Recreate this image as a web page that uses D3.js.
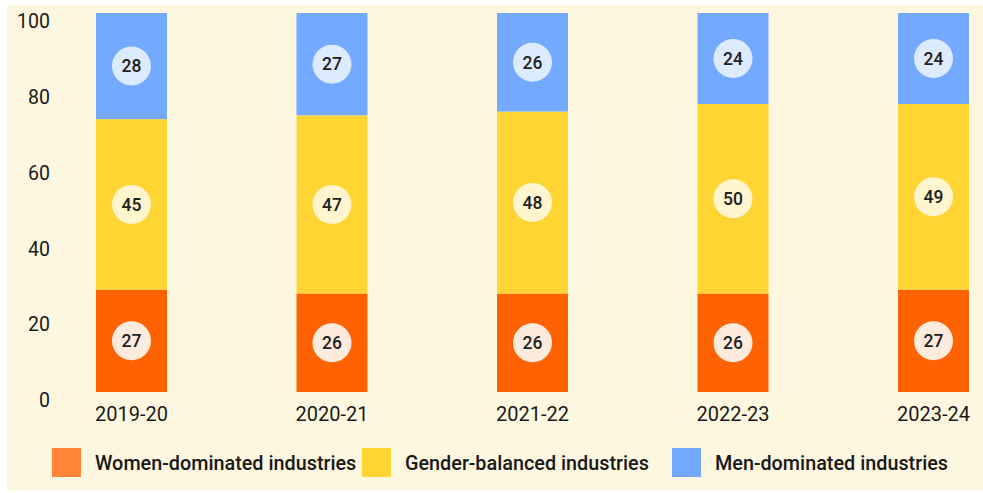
<!DOCTYPE html>
<html>
<head>
<meta charset="utf-8">
<script src="https://cdn.jsdelivr.net/npm/d3@7"></script>
<style>
  body { margin: 0; background: #fff; }
  svg text { font-family: Roboto, "Noto Sans", sans-serif; }
  svg text.med { font-family: "Roboto Medium", Roboto, sans-serif; font-weight: 500; }
</style>
</head>
<body>
<div id="chart"></div>
<script>
// chart values
const years = ["2019-20", "2020-21", "2021-22", "2022-23", "2023-24"];
const women = [27, 26, 26, 26, 27];
const balanced = [45, 47, 48, 50, 49];
const men = [28, 27, 26, 24, 24];
const seriesNames = ["Women-dominated industries", "Gender-balanced industries", "Men-dominated industries"];
const yTicks = [0, 20, 40, 60, 80, 100];

const width = 983, height = 493;
const barColors = ["#FF6200", "#FFD533", "#73AAFF"];
const legendColors = ["#FF8436", "#FFD533", "#73AAFF"];
const bubbleColors = ["#FFEBDD", "#FFF5CF", "#DDEBFF"];

const svg = d3.select("#chart").append("svg")
    .attr("width", width)
    .attr("height", height);

// cream panel
svg.append("rect")
    .attr("x", 7).attr("y", 5)
    .attr("width", width - 7).attr("height", 485)
    .attr("fill", "#FEF7E0");

const x = d3.scaleBand()
    .domain(years)
    .range([96, 969])
    .paddingInner(0.646)
    .paddingOuter(0);

const y = d3.scaleLinear()
    .domain([0, 100])
    .range([392, 13]);

// stack the three series
const rows = years.map((yr, i) => ({ year: yr, w: women[i], b: balanced[i], m: men[i] }));
const stacked = d3.stack().keys(["w", "b", "m"])(rows);

const layers = svg.selectAll("g.layer")
    .data(stacked)
    .enter().append("g")
    .attr("class", "layer");

layers.selectAll("rect")
    .data((s, si) => s.map(d => ({ d, si })))
    .enter().append("rect")
    .attr("x", o => x(o.d.data.year))
    .attr("y", o => y(o.d[1]))
    .attr("width", x.bandwidth())
    .attr("height", o => y(o.d[0]) - y(o.d[1]))
    .attr("fill", o => barColors[o.si]);

// value bubbles
const labels = layers.selectAll("g.lbl")
    .data((s, si) => s.map(d => ({ d, si })))
    .enter().append("g")
    .attr("class", "lbl")
    .attr("transform", o => "translate(" + (x(o.d.data.year) + x.bandwidth() / 2) + "," + y((o.d[0] + o.d[1]) / 2) + ")");

labels.append("circle")
    .attr("r", 19.5)
    .attr("fill", o => bubbleColors[o.si]);

labels.append("text")
    .attr("class", "med")
    .attr("text-anchor", "middle")
    .attr("dy", "0.36em")
    .attr("font-size", 17.5)
    .attr("fill", "#222")
    .text(o => o.d[1] - o.d[0]);

// y axis
const yAxis = svg.append("g")
    .attr("transform", "translate(50,0)")
    .call(d3.axisLeft(y).tickValues(yTicks).tickSize(0).tickPadding(0));
yAxis.select(".domain").remove();
yAxis.selectAll("text")
    .attr("font-family", "Roboto")
    .attr("font-size", 19.5)
    .attr("fill", "#1a1a1a")
    .attr("dy", "0.75em");

// x axis
const xAxis = svg.append("g")
    .attr("transform", "translate(0,392)")
    .call(d3.axisBottom(x).tickSize(0).tickPadding(15));
xAxis.select(".domain").remove();
xAxis.selectAll("text")
    .attr("font-family", "Roboto")
    .attr("font-size", 20)
    .attr("fill", "#1a1a1a");

// legend
const legend = svg.selectAll("g.legend")
    .data(seriesNames)
    .enter().append("g")
    .attr("class", "legend")
    .attr("transform", (d, i) => "translate(" + (52 + i * 310) + ",448)");

legend.append("rect")
    .attr("width", 29).attr("height", 29)
    .attr("fill", (d, i) => legendColors[i]);

legend.append("text")
    .attr("class", "med")
    .attr("x", 43)
    .attr("y", 14.5)
    .attr("dy", "0.36em")
    .attr("font-size", 19.8)
    .attr("fill", "#1a1a1a")
    .text(d => d);
</script>
</body>
</html>
